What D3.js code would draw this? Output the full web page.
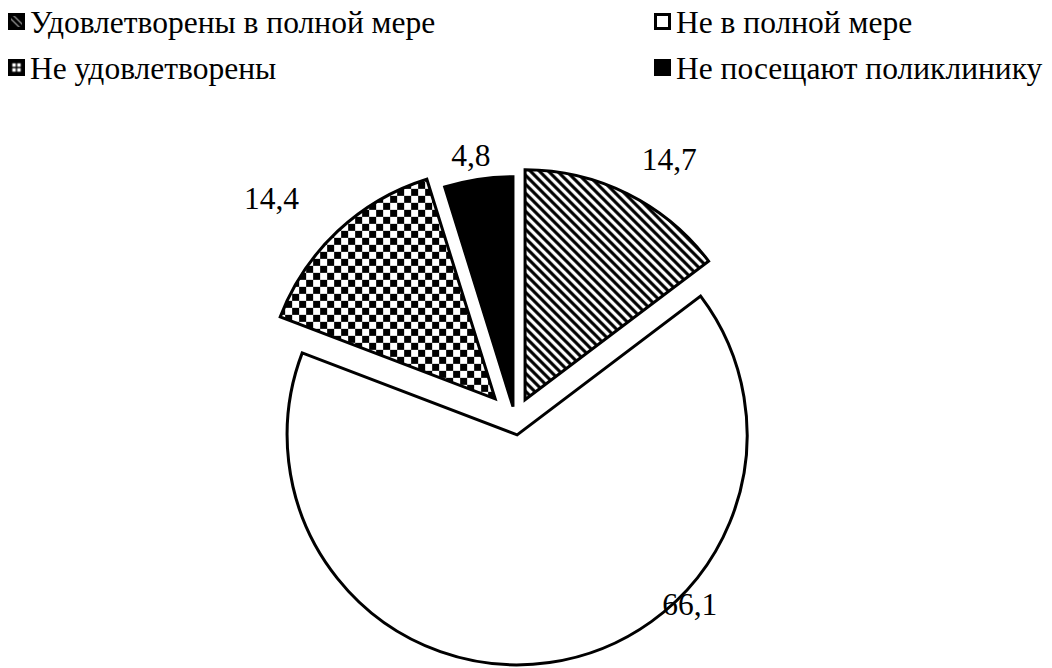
<!DOCTYPE html>
<html>
<head>
<meta charset="utf-8">
<script src="https://cdn.jsdelivr.net/npm/d3@7/dist/d3.min.js"></script>
<style>
  html, body { margin: 0; padding: 0; background: #fff; }
  svg { display: block; }
</style>
</head>
<body>
<svg id="chart" width="1052" height="668"></svg>
<script>
// ---- data ----
const categories = ["Удовлетворены в полной мере", "Не в полной мере", "Не удовлетворены", "Не посещают поликлинику"];
const values = [14.7, 66.1, 14.4, 4.8];
const valueLabels = ["14,7", "66,1", "14,4", "4,8"];

// ---- layout / style config ----
const W = 1052, H = 668;
const FONT = "Liberation Serif";
const center = [515, 420];
const radius = 230;
const explode = [22.6, 15, 29, 13.5];
const fills = ["url(#stripes)", "#fff", "url(#checker)", "#000"];
const legendFills = ["url(#stripesSmall)", "#fff", "url(#checkerSmall)", "#000"];
// label placement: angle (deg, clockwise from top) and distance from the slice apex
const labelPlace = [[31.0, 280], [134.5, 242], [311.8, 300], [350.5, 255]];
const fontSize = 31.5;

const svg = d3.select("#chart");
svg.append("rect").attr("width", W).attr("height", H).attr("fill", "#fff");

const defs = svg.append("defs");
// diagonal stripes "\"
const P = 9;
const st = defs.append("pattern").attr("id", "stripes").attr("patternUnits", "userSpaceOnUse")
  .attr("width", P).attr("height", P);
st.append("rect").attr("width", P).attr("height", P).attr("fill", "#fff");
st.append("path").attr("d", `M-2,-2 L${P + 2},${P + 2} M-2,${P - 2} L2,${P + 2} M${P - 2},-2 L${P + 2},2`)
  .attr("stroke", "#000").attr("stroke-width", 3.1).attr("fill", "none");
// checker
const C = 7;
const ck = defs.append("pattern").attr("id", "checker").attr("patternUnits", "userSpaceOnUse")
  .attr("width", 2 * C).attr("height", 2 * C);
ck.append("rect").attr("width", 2 * C).attr("height", 2 * C).attr("fill", "#fff");
ck.append("rect").attr("width", C).attr("height", C).attr("fill", "#000");
ck.append("rect").attr("x", C).attr("y", C).attr("width", C).attr("height", C).attr("fill", "#000");
// small legend versions
const sts = defs.append("pattern").attr("id", "stripesSmall").attr("patternUnits", "objectBoundingBox")
  .attr("width", 1).attr("height", 1).attr("patternContentUnits", "objectBoundingBox");
sts.append("rect").attr("width", 1).attr("height", 1).attr("fill", "#000");
sts.append("path").attr("d", "M0.05,0.3 L0.7,0.95 L0.95,0.95 L0.95,0.7 L0.3,0.05 L0.05,0.05 Z").attr("fill", "#fff");
sts.append("path").attr("d", "M0.05,0.05 L0.95,0.95").attr("stroke", "#000").attr("stroke-width", 0.24);
const cks = defs.append("pattern").attr("id", "checkerSmall").attr("patternUnits", "objectBoundingBox")
  .attr("width", 1).attr("height", 1).attr("patternContentUnits", "objectBoundingBox");
cks.append("rect").attr("width", 1).attr("height", 1).attr("fill", "#000");
[[0.2, 0.2], [0.55, 0.2], [0.2, 0.55], [0.55, 0.55]].forEach(([x, y]) =>
  cks.append("rect").attr("x", x).attr("y", y).attr("width", 0.25).attr("height", 0.25).attr("fill", "#fff"));

// ---- pie ----
const pie = d3.pie().sort(null).value(d => d)(values);
const arc = d3.arc().innerRadius(0).outerRadius(radius);

const apex = pie.map((p, i) => {
  const mid = (p.startAngle + p.endAngle) / 2;
  return [center[0] + explode[i] * Math.sin(mid), center[1] - explode[i] * Math.cos(mid)];
});

const g = svg.append("g");
g.selectAll("path.slice").data(pie).join("path")
  .attr("class", "slice")
  .attr("transform", (d, i) => `translate(${apex[i][0]},${apex[i][1]})`)
  .attr("d", arc)
  .attr("fill", (d, i) => fills[i])
  .attr("stroke", "#000")
  .attr("stroke-width", 3)
  .attr("stroke-linejoin", "miter");

// labels
g.selectAll("text.lbl").data(pie).join("text")
  .attr("class", "lbl")
  .attr("x", (d, i) => apex[i][0] + labelPlace[i][1] * Math.sin(labelPlace[i][0] * Math.PI / 180))
  .attr("y", (d, i) => apex[i][1] - labelPlace[i][1] * Math.cos(labelPlace[i][0] * Math.PI / 180))
  .attr("text-anchor", "middle")
  .attr("dominant-baseline", "central")
  .attr("font-family", FONT)
  .attr("font-size", fontSize)
  .attr("fill", "#000")
  .text((d, i) => valueLabels[i]);

// ---- legend ----
const legendPos = [[8, 22], [654, 22], [8, 68], [654, 68]];
const lg = svg.append("g").selectAll("g").data(categories).join("g")
  .attr("transform", (d, i) => `translate(${legendPos[i][0]},${legendPos[i][1]})`);
lg.append("rect")
  .attr("x", 1.5).attr("y", -7.5).attr("width", 14).attr("height", 14)
  .attr("fill", (d, i) => legendFills[i])
  .attr("stroke", "#000").attr("stroke-width", 3);
lg.append("text")
  .attr("x", 22).attr("y", 0)
  .attr("dominant-baseline", "central")
  .attr("font-family", FONT)
  .attr("font-size", fontSize)
  .attr("fill", "#000")
  .text(d => d);
</script>
</body>
</html>
